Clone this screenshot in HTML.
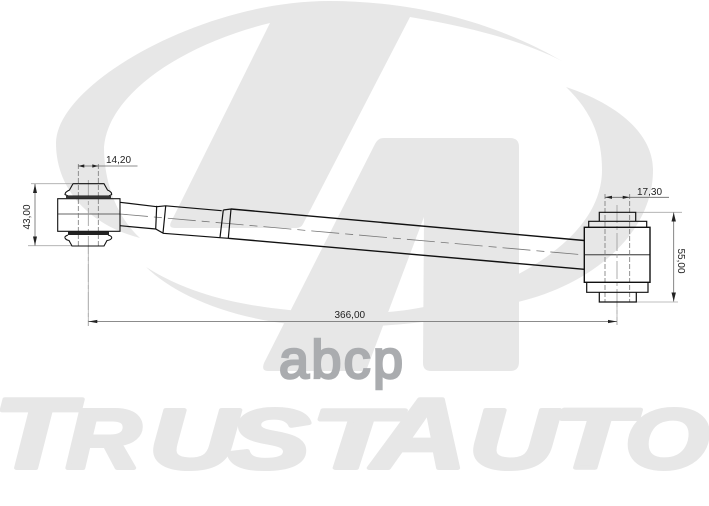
<!DOCTYPE html>
<html>
<head>
<meta charset="utf-8">
<style>
html,body{margin:0;padding:0;background:#fff;width:709px;height:506px;overflow:hidden}
svg{display:block}
text{font-family:"Liberation Sans",sans-serif}
.l{font-size:10px;fill:#222}
.w{font-weight:bold;font-style:italic;fill:#e7e7e7;stroke:#e7e7e7;stroke-width:4;stroke-linejoin:round}
.s{font-size:84px}
.b{font-size:100px}
</style>
</head>
<body>
<svg width="709" height="506" viewBox="0 0 709 506" xmlns="http://www.w3.org/2000/svg">
<!-- watermark -->
<g fill="#e7e7e7">
<path d="M562 61 C500 25 420 1 329 1 C200 1 56 85 56 143 C56 190 90 225 140 238 C115 215 104 180 104 147 C108 95 180 45 270 23 L171 222 Q168 228 175 228 L296 228 Q301 228 303 224 L410 17 C470 27 520 40 562 61 Z"/>
<path d="M566 87 C620 105 653 135 653 170 C653 235 590 285 518 302 C470 318 400 327 340 327 C250 327 180 300 146 267 C190 295 240 305 289 310 C340 316 390 314 424 307 C480 298 602 250 602 170 C602 135 590 110 566 87 Z"/>
<path d="M384 138 L510 138 Q519 138 519 147 L519 362 Q519 371 510 371 L431 371 Q423 371 423 363 L424 217 L366 371 L268 371 Q261 371 264 363 L375 144 Q378 138 384 138 Z"/>
</g>
<text class="w b" x="-7" y="468" textLength="80" lengthAdjust="spacingAndGlyphs">T</text>
<text class="w s" x="66" y="468" textLength="75" lengthAdjust="spacingAndGlyphs">R</text>
<text class="w s" x="149" y="468" textLength="88" lengthAdjust="spacingAndGlyphs">U</text>
<text class="w s" x="228" y="468" textLength="82" lengthAdjust="spacingAndGlyphs">S</text>
<text class="w s" x="311" y="468" textLength="84" lengthAdjust="spacingAndGlyphs">T</text>
<text class="w b" x="372" y="468" textLength="95" lengthAdjust="spacingAndGlyphs">A</text>
<text class="w s" x="469" y="468" textLength="88" lengthAdjust="spacingAndGlyphs">U</text>
<text class="w s" x="553" y="468" textLength="78" lengthAdjust="spacingAndGlyphs">T</text>
<text class="w s" x="625" y="468" textLength="84" lengthAdjust="spacingAndGlyphs">O</text>
<text x="279" y="378" textLength="124" lengthAdjust="spacing" style="font-size:54px;fill:#aaacaf;stroke:#aaacaf;stroke-width:2.5">abcp</text>

<!-- centre lines -->
<g fill="none" stroke="#777" stroke-width="0.8">
<path d="M120 214 L585 255" stroke-dasharray="28 6 8 6"/>
<path d="M58 214 H120" stroke="#666" stroke-width="1"/>
<path d="M584 254.7 H650" stroke="#666" stroke-width="1.4"/>
<path d="M78.3 164 V246 M98.3 164 V246" stroke-dasharray="5 2"/>
<path d="M605 194 V302 M629.7 194 V302" stroke-dasharray="5 2"/>
<path d="M88.3 180 V326" stroke="#999" stroke-dasharray="18 3 4 3"/>
<path d="M617 205 V325" stroke="#999" stroke-dasharray="18 3 4 3"/>
</g>

<!-- dimensions -->
<g fill="none" stroke="#aaa" stroke-width="0.8">
<path d="M31 183.7 H72 M28 245.7 H72"/>
<path d="M636 212.3 H682 M636 302 H678"/>
<path d="M88.3 246 V326 M617 302 V325"/>
</g>
<g fill="none" stroke="#666" stroke-width="0.8">
<path d="M78.3 166 H137.5"/>
<path d="M605 197.3 H669"/>
<path d="M35 184 V245.5"/>
<path d="M673.7 212.5 V301.5"/>
<path d="M88.3 321.5 H617"/>
</g>
<g fill="#222">
<path d="M78.3 166 l6 -1.6 v3.2 Z M98.3 166 l-6 -1.6 v3.2 Z"/>
<path d="M605 197.3 l7 -1.6 v3.2 Z M629.7 197.3 l-7 -1.6 v3.2 Z"/>
<path d="M35 184 l-2 9 h4 Z M35 245.5 l-2 -9 h4 Z"/>
<path d="M673.7 212.5 l-2.2 9 h4.4 Z M673.7 301.5 l-2.2 -9 h4.4 Z"/>
<path d="M88.3 321.5 l9 -1.6 v3.2 Z M617 321.5 l-9 -1.6 v3.2 Z"/>
</g>
<text class="l" x="106" y="163">14,20</text>
<text class="l" x="637" y="195">17,30</text>
<text class="l" x="334.5" y="318">366,00</text>
<text class="l" text-anchor="middle" transform="translate(30 217) rotate(-90)">43,00</text>
<text class="l" text-anchor="middle" transform="translate(678 261) rotate(90)">55,00</text>

<!-- rod -->
<g fill="none" stroke="#111" stroke-width="1.2">
<path d="M120 202.3 L156.7 206.7 L165.7 205.8 L221.7 210.7 M120 225.7 L155.7 229 L163.3 233.3 L220 237.7"/>
<path d="M156.7 205.8 L155.7 229 M165.7 206 L163 233"/>
<path d="M223.3 210 L220 237.5 M231 209 L228.3 238.3 M223.3 210 L231 209 M220 237.7 L228.3 238.3"/>
<path d="M231 209 L584.3 240.5 M228.3 238.3 L584.3 269.3" stroke-width="1.4"/>
</g>

<!-- left joint -->
<g fill="none" stroke="#111" stroke-width="1.1">
<rect x="57.7" y="198.7" width="62.3" height="32.6"/>
<path d="M73 183.7 H104 L107.5 190 Q112 192 111.7 194.5 L109 196 H68 L65 194.5 Q65 192 69.5 190 Z"/>
<path d="M68 235 Q64 236.5 65 238 Q66 240 69 240.5 L72 246 H104 L107 240.5 Q111 240 111.7 238 Q112 236 108 235"/>
</g>
<rect x="66" y="196" width="45" height="2.7" fill="#333"/>
<rect x="68" y="231.3" width="41" height="3.7" fill="#222"/>

<!-- right joint -->
<g fill="none" stroke="#111" stroke-width="1.2">
<rect x="584.3" y="227.3" width="65.7" height="55" stroke-width="1.4"/>
<path d="M588.7 227.3 V221.3 H646.7 V227.3"/>
<path d="M599.3 221.3 V212.3 H635.7 V221.3"/>
<path d="M586.7 282.3 V292.3 H648 V282.3"/>
<path d="M599.3 292.3 V302 H636.3 V292.3"/>
</g>
</svg>
</body>
</html>
